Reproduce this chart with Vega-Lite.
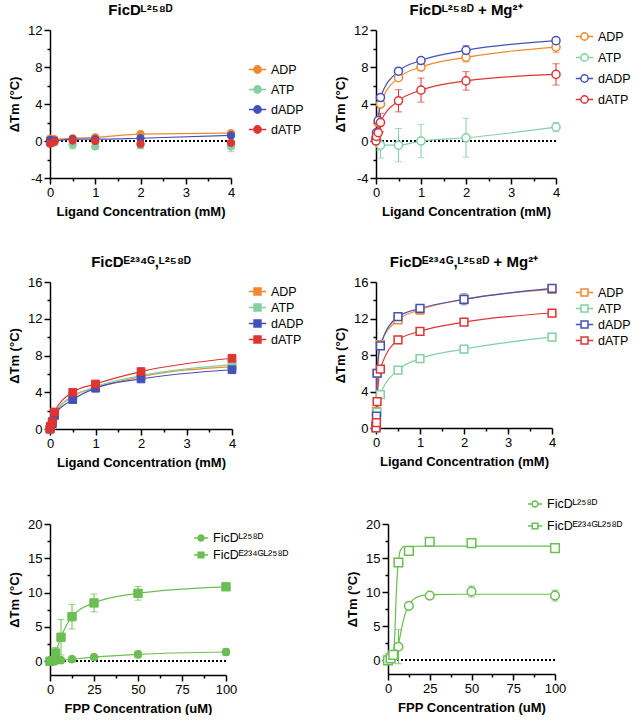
{
"$schema": "https://vega.github.io/schema/vega-lite/v6.json",
"padding": {"left": 8, "top": 3, "right": 0, "bottom": 0},
"config": {
  "font": "Liberation Sans",
  "view": {"stroke": null},
  "axis": {"grid": false, "domainColor": "#000", "domainWidth": 1.5, "tickColor": "#000", "tickWidth": 1.5, "tickSize": 6, "tickCount": 20, "labelFontSize": 13, "labelColor": "#000", "labelPadding": 2, "labelOverlap": false, "labelBound": false, "labelFlush": false, "titleFontSize": 13, "titleFontWeight": "bold", "titleColor": "#000", "titlePadding": 6},
  "title": {"fontSize": 15, "fontWeight": "bold", "color": "#000", "offset": 6},
  "legend": {"labelFontSize": 12.5, "labelColor": "#000", "symbolStrokeWidth": 1.5, "labelOffset": 4, "title": null, "orient": "none"}
},
"datasets": {
  "p1": [
    {"c":0,"s":"ADP","m":0.25,"e":0.1},{"c":0.05,"s":"ADP","m":0.2,"e":0.1},{"c":0.1,"s":"ADP","m":0.2,"e":0.1},{"c":0.5,"s":"ADP","m":0.3,"e":0.1},{"c":1,"s":"ADP","m":0.4,"e":0.15},{"c":2,"s":"ADP","m":0.75,"e":0.15},{"c":4,"s":"ADP","m":0.85,"e":0.15},
    {"c":0,"s":"ATP","m":-0.1,"e":0.2},{"c":0.05,"s":"ATP","m":-0.1,"e":0.2},{"c":0.1,"s":"ATP","m":-0.15,"e":0.3},{"c":0.5,"s":"ATP","m":-0.4,"e":0.45},{"c":1,"s":"ATP","m":-0.6,"e":0.3},{"c":2,"s":"ATP","m":-0.45,"e":0.4},{"c":4,"s":"ATP","m":-0.6,"e":0.55},
    {"c":0,"s":"dADP","m":0.1,"e":0.1},{"c":0.05,"s":"dADP","m":0.05,"e":0.1},{"c":0.1,"s":"dADP","m":0.05,"e":0.1},{"c":0.5,"s":"dADP","m":0.2,"e":0.1},{"c":1,"s":"dADP","m":0.2,"e":0.1},{"c":2,"s":"dADP","m":0.3,"e":0.15},{"c":4,"s":"dADP","m":0.6,"e":0.1},
    {"c":0,"s":"dATP","m":-0.3,"e":0.1},{"c":0.05,"s":"dATP","m":-0.2,"e":0.1},{"c":0.1,"s":"dATP","m":-0.05,"e":0.1},{"c":0.5,"s":"dATP","m":0.05,"e":0.1},{"c":1,"s":"dATP","m":0.0,"e":0.2},{"c":2,"s":"dATP","m":-0.3,"e":0.45},{"c":4,"s":"dATP","m":-0.2,"e":0.25}
  ],
  "p2": [
    {"c":0,"s":"ADP","m":0.1,"e":0.1},{"c":0.01,"s":"ADP","m":0.5,"e":0.2},{"c":0.05,"s":"ADP","m":2.0,"e":0.3},{"c":0.1,"s":"ADP","m":4.0,"e":0.3},{"c":0.5,"s":"ADP","m":6.85,"e":0.3},{"c":1,"s":"ADP","m":8.0,"e":0.4},{"c":2,"s":"ADP","m":9.05,"e":0.5},{"c":4,"s":"ADP","m":10.15,"e":0.6},
    {"c":0,"s":"ATP","m":0.0,"e":0.3},{"c":0.01,"s":"ATP","m":0.1,"e":0.4},{"c":0.05,"s":"ATP","m":-0.2,"e":0.8},{"c":0.1,"s":"ATP","m":-0.45,"e":1.4},{"c":0.5,"s":"ATP","m":-0.45,"e":1.8},{"c":1,"s":"ATP","m":0.0,"e":1.8},{"c":2,"s":"ATP","m":0.35,"e":2.1},{"c":4,"s":"ATP","m":1.5,"e":0.5},
    {"c":0,"s":"dADP","m":0.3,"e":0.1},{"c":0.01,"s":"dADP","m":0.9,"e":0.2},{"c":0.05,"s":"dADP","m":2.2,"e":0.3},{"c":0.1,"s":"dADP","m":4.7,"e":0.2},{"c":0.5,"s":"dADP","m":7.55,"e":0.2},{"c":1,"s":"dADP","m":8.7,"e":0.2},{"c":2,"s":"dADP","m":9.8,"e":0.5},{"c":4,"s":"dADP","m":10.85,"e":0.3},
    {"c":0,"s":"dATP","m":0.0,"e":0.2},{"c":0.01,"s":"dATP","m":0.5,"e":0.4},{"c":0.05,"s":"dATP","m":0.9,"e":0.8},{"c":0.1,"s":"dATP","m":2.0,"e":1.0},{"c":0.5,"s":"dATP","m":4.35,"e":1.2},{"c":1,"s":"dATP","m":5.5,"e":1.3},{"c":2,"s":"dATP","m":6.5,"e":1.0},{"c":4,"s":"dATP","m":7.2,"e":1.15}
  ],
  "p3": [
    {"c":0,"s":"ADP","m":0,"e":0.1},{"c":0.01,"s":"ADP","m":0.2,"e":0.1},{"c":0.05,"s":"ADP","m":0.5,"e":0.2},{"c":0.1,"s":"ADP","m":1.45,"e":0.2},{"c":0.5,"s":"ADP","m":3.6,"e":0.3},{"c":1,"s":"ADP","m":4.45,"e":0.4},{"c":2,"s":"ADP","m":5.7,"e":0.2},{"c":4,"s":"ADP","m":6.8,"e":0.3},
    {"c":0,"s":"ATP","m":0,"e":0.1},{"c":0.01,"s":"ATP","m":0.3,"e":0.1},{"c":0.05,"s":"ATP","m":0.8,"e":0.1},{"c":0.1,"s":"ATP","m":1.7,"e":0.1},{"c":0.5,"s":"ATP","m":3.5,"e":0.2},{"c":1,"s":"ATP","m":4.6,"e":0.2},{"c":2,"s":"ATP","m":5.8,"e":0.2},{"c":4,"s":"ATP","m":7.0,"e":0.3},
    {"c":0,"s":"dADP","m":0,"e":0.1},{"c":0.01,"s":"dADP","m":0.2,"e":0.1},{"c":0.05,"s":"dADP","m":0.6,"e":0.1},{"c":0.1,"s":"dADP","m":1.5,"e":0.1},{"c":0.5,"s":"dADP","m":3.2,"e":0.1},{"c":1,"s":"dADP","m":4.45,"e":0.1},{"c":2,"s":"dADP","m":5.45,"e":0.1},{"c":4,"s":"dADP","m":6.45,"e":0.15},
    {"c":0,"s":"dATP","m":0,"e":0.1},{"c":0.01,"s":"dATP","m":0.3,"e":0.1},{"c":0.05,"s":"dATP","m":0.8,"e":0.1},{"c":0.1,"s":"dATP","m":1.85,"e":0.1},{"c":0.5,"s":"dATP","m":4.0,"e":0.15},{"c":1,"s":"dATP","m":4.9,"e":0.15},{"c":2,"s":"dATP","m":6.25,"e":0.15},{"c":4,"s":"dATP","m":7.7,"e":0.2}
  ],
  "p4": [
    {"c":0,"s":"ADP","m":0.3,"e":0.1},{"c":0.01,"s":"ADP","m":1.8,"e":0.2},{"c":0.025,"s":"ADP","m":6.0,"e":0.3},{"c":0.1,"s":"ADP","m":9.15,"e":0.3},{"c":0.5,"s":"ADP","m":11.85,"e":0.3},{"c":1,"s":"ADP","m":12.95,"e":0.5},{"c":2,"s":"ADP","m":14.1,"e":0.4},{"c":4,"s":"ADP","m":15.2,"e":0.4},
    {"c":0,"s":"ATP","m":0,"e":0.1},{"c":0.01,"s":"ATP","m":0.4,"e":0.1},{"c":0.025,"s":"ATP","m":1.7,"e":0.2},{"c":0.1,"s":"ATP","m":3.65,"e":0.2},{"c":0.5,"s":"ATP","m":6.35,"e":0.2},{"c":1,"s":"ATP","m":7.6,"e":0.2},{"c":2,"s":"ATP","m":8.65,"e":0.2},{"c":4,"s":"ATP","m":9.95,"e":0.4},
    {"c":0,"s":"dADP","m":0.2,"e":0.1},{"c":0.01,"s":"dADP","m":1.3,"e":0.2},{"c":0.025,"s":"dADP","m":6.0,"e":0.3},{"c":0.1,"s":"dADP","m":9.0,"e":0.2},{"c":0.5,"s":"dADP","m":12.2,"e":0.3},{"c":1,"s":"dADP","m":13.1,"e":0.4},{"c":2,"s":"dADP","m":14.1,"e":0.6},{"c":4,"s":"dADP","m":15.3,"e":0.4},
    {"c":0,"s":"dATP","m":0,"e":0.1},{"c":0.01,"s":"dATP","m":0.6,"e":0.1},{"c":0.025,"s":"dATP","m":2.9,"e":0.2},{"c":0.1,"s":"dATP","m":6.45,"e":0.3},{"c":0.5,"s":"dATP","m":9.65,"e":0.2},{"c":1,"s":"dATP","m":10.6,"e":0.2},{"c":2,"s":"dATP","m":11.6,"e":0.2},{"c":4,"s":"dATP","m":12.6,"e":0.2}
  ],
  "p5": [
    {"c":0,"s":"FicDᴸ²⁵⁸ᴰ","m":0,"e":0.1},{"c":1.5625,"s":"FicDᴸ²⁵⁸ᴰ","m":0,"e":0.1},{"c":3.125,"s":"FicDᴸ²⁵⁸ᴰ","m":0.05,"e":0.1},{"c":6.25,"s":"FicDᴸ²⁵⁸ᴰ","m":0.15,"e":0.1},{"c":12.5,"s":"FicDᴸ²⁵⁸ᴰ","m":0.3,"e":0.1},{"c":25,"s":"FicDᴸ²⁵⁸ᴰ","m":0.6,"e":0.2},{"c":50,"s":"FicDᴸ²⁵⁸ᴰ","m":1.0,"e":0.5},{"c":100,"s":"FicDᴸ²⁵⁸ᴰ","m":1.35,"e":0.5},
    {"c":0,"s":"FicDᴱ²³⁴ᴳᴸ²⁵⁸ᴰ","m":0,"e":0.1},{"c":1.5625,"s":"FicDᴱ²³⁴ᴳᴸ²⁵⁸ᴰ","m":0.1,"e":0.2},{"c":3.125,"s":"FicDᴱ²³⁴ᴳᴸ²⁵⁸ᴰ","m":1.2,"e":0.8},{"c":6.25,"s":"FicDᴱ²³⁴ᴳᴸ²⁵⁸ᴰ","m":3.5,"e":2.6},{"c":12.5,"s":"FicDᴱ²³⁴ᴳᴸ²⁵⁸ᴰ","m":6.5,"e":1.8},{"c":25,"s":"FicDᴱ²³⁴ᴳᴸ²⁵⁸ᴰ","m":8.5,"e":1.3},{"c":50,"s":"FicDᴱ²³⁴ᴳᴸ²⁵⁸ᴰ","m":9.9,"e":1.0},{"c":100,"s":"FicDᴱ²³⁴ᴳᴸ²⁵⁸ᴰ","m":10.85,"e":0.5}
  ],
  "p6": [
    {"c":0,"s":"FicDᴸ²⁵⁸ᴰ","m":0,"e":0.2},{"c":1.5625,"s":"FicDᴸ²⁵⁸ᴰ","m":0.3,"e":0.2},{"c":3.125,"s":"FicDᴸ²⁵⁸ᴰ","m":0.7,"e":0.3},{"c":6.25,"s":"FicDᴸ²⁵⁸ᴰ","m":2.0,"e":2.5},{"c":12.5,"s":"FicDᴸ²⁵⁸ᴰ","m":8.0,"e":0.3},{"c":25,"s":"FicDᴸ²⁵⁸ᴰ","m":9.5,"e":0.3},{"c":50,"s":"FicDᴸ²⁵⁸ᴰ","m":10.1,"e":0.8},{"c":100,"s":"FicDᴸ²⁵⁸ᴰ","m":9.5,"e":0.8},
    {"c":0,"s":"FicDᴱ²³⁴ᴳᴸ²⁵⁸ᴰ","m":0,"e":0.1},{"c":1.5625,"s":"FicDᴱ²³⁴ᴳᴸ²⁵⁸ᴰ","m":0.3,"e":0.1},{"c":3.125,"s":"FicDᴱ²³⁴ᴳᴸ²⁵⁸ᴰ","m":0.8,"e":0.2},{"c":6.25,"s":"FicDᴱ²³⁴ᴳᴸ²⁵⁸ᴰ","m":14.35,"e":0.3},{"c":12.5,"s":"FicDᴱ²³⁴ᴳᴸ²⁵⁸ᴰ","m":16.05,"e":0.3},{"c":25,"s":"FicDᴱ²³⁴ᴳᴸ²⁵⁸ᴰ","m":17.4,"e":0.3},{"c":50,"s":"FicDᴱ²³⁴ᴳᴸ²⁵⁸ᴰ","m":17.2,"e":0.3},{"c":100,"s":"FicDᴱ²³⁴ᴳᴸ²⁵⁸ᴰ","m":16.45,"e":0.3}
  ],
  "p6fit": [
    {"c":0,"s":"FicDᴸ²⁵⁸ᴰ","m":0},{"c":3,"s":"FicDᴸ²⁵⁸ᴰ","m":0.3},{"c":5,"s":"FicDᴸ²⁵⁸ᴰ","m":1.0},{"c":6.25,"s":"FicDᴸ²⁵⁸ᴰ","m":2.3},{"c":8,"s":"FicDᴸ²⁵⁸ᴰ","m":4.5},{"c":10,"s":"FicDᴸ²⁵⁸ᴰ","m":6.6},{"c":12.5,"s":"FicDᴸ²⁵⁸ᴰ","m":8.1},{"c":15,"s":"FicDᴸ²⁵⁸ᴰ","m":8.9},{"c":20,"s":"FicDᴸ²⁵⁸ᴰ","m":9.5},{"c":25,"s":"FicDᴸ²⁵⁸ᴰ","m":9.65},{"c":50,"s":"FicDᴸ²⁵⁸ᴰ","m":9.7},{"c":100,"s":"FicDᴸ²⁵⁸ᴰ","m":9.7},
    {"c":0,"s":"FicDᴱ²³⁴ᴳᴸ²⁵⁸ᴰ","m":0},{"c":3,"s":"FicDᴱ²³⁴ᴳᴸ²⁵⁸ᴰ","m":0.5},{"c":4,"s":"FicDᴱ²³⁴ᴳᴸ²⁵⁸ᴰ","m":3.5},{"c":5,"s":"FicDᴱ²³⁴ᴳᴸ²⁵⁸ᴰ","m":10},{"c":6,"s":"FicDᴱ²³⁴ᴳᴸ²⁵⁸ᴰ","m":14},{"c":7,"s":"FicDᴱ²³⁴ᴳᴸ²⁵⁸ᴰ","m":15.8},{"c":8,"s":"FicDᴱ²³⁴ᴳᴸ²⁵⁸ᴰ","m":16.4},{"c":10,"s":"FicDᴱ²³⁴ᴳᴸ²⁵⁸ᴰ","m":16.7},{"c":25,"s":"FicDᴱ²³⁴ᴳᴸ²⁵⁸ᴰ","m":16.75},{"c":100,"s":"FicDᴱ²³⁴ᴳᴸ²⁵⁸ᴰ","m":16.75}
  ]
},
"resolve": {"scale": {"color": "independent", "stroke": "independent", "fill": "independent"}},
"spacing": 27,
"vconcat": [
 {
  "resolve": {"scale": {"color": "independent", "stroke": "independent", "fill": "independent"}},
  "spacing": 37,
  "vconcat": [
   {
    "resolve": {"scale": {"color": "independent", "stroke": "independent", "fill": "independent"}},
    "spacing": 30,
    "hconcat": [
     {
      "width": 181, "height": 148,
      "title": {"text": "FicDᴸ²⁵⁸ᴰ"},
      "data": {"name": "p1"},
      "layer": [
       {"mark": {"type": "rule", "color": "#000", "strokeWidth": 1.5, "strokeDash": [1.5, 2.5]}, "encoding": {"y": {"datum": 0, "type": "quantitative", "scale": {"domain": [-4, 12], "nice": false, "zero": false}}}},
       {"mark": {"type": "errorbar", "ticks": {"size": 7}, "thickness": 1},
        "encoding": {"x": {"field": "c", "type": "quantitative", "title": "Ligand Concentration (mM)", "scale": {"domain": [0, 4], "nice": false}},
                     "y": {"field": "m", "type": "quantitative", "title": "ΔTm (°C)", "scale": {"domain": [-4, 12], "nice": false, "zero": false}},
                     "yError": {"field": "e"},
                     "color": {"field": "s", "type": "nominal", "scale": {"domain": ["dATP", "dADP", "ATP", "ADP"], "range": ["#DE3434", "#4451B8", "#83D0A4", "#F0892E"]}, "legend": null}}},
       {"transform": [{"filter": "datum.s === 'ADP' || datum.s === 'dADP'"}],
        "mark": {"type": "line", "interpolate": "monotone", "strokeWidth": 1.2},
        "encoding": {"x": {"field": "c", "type": "quantitative", "title": "Ligand Concentration (mM)", "scale": {"domain": [0, 4], "nice": false}},
                     "y": {"field": "m", "type": "quantitative", "title": "ΔTm (°C)", "scale": {"domain": [-4, 12], "nice": false, "zero": false}},
                     "color": {"field": "s", "type": "nominal", "scale": {"domain": ["dATP", "dADP", "ATP", "ADP"], "range": ["#DE3434", "#4451B8", "#83D0A4", "#F0892E"]}, "legend": null}}},
       {"mark": {"type": "point", "shape": "circle", "filled": true, "size": 55, "strokeWidth": 1, "opacity": 1},
        "encoding": {"x": {"field": "c", "type": "quantitative", "title": "Ligand Concentration (mM)", "scale": {"domain": [0, 4], "nice": false},
                           "axis": {"tickCount": 20, "values": [0, 0.5, 1, 1.5, 2, 2.5, 3, 3.5, 4], "labelExpr": "datum.value % 1 === 0 ? '' + datum.value : ''", "tickSize": {"condition": {"test": "datum.value % 1 !== 0", "value": 3}, "value": 6}}},
                     "y": {"field": "m", "type": "quantitative", "title": "ΔTm (°C)", "scale": {"domain": [-4, 12], "nice": false, "zero": false},
                           "axis": {"tickCount": 20, "values": [-4, -2, 0, 2, 4, 6, 8, 10, 12], "labelExpr": "datum.value % 4 === 0 ? '' + datum.value : ''", "tickSize": {"condition": {"test": "datum.value % 4 !== 0", "value": 3}, "value": 6}}},
                     "stroke": {"field": "s", "type": "nominal", "scale": {"domain": ["ADP", "ATP", "dADP", "dATP"], "range": ["#F0892E", "#83D0A4", "#4451B8", "#DE3434"]},
                                "legend": {"orient": "none", "legendX": 198, "legendY": 30, "symbolType": "M-1,0H-0.42M0.42,0H1M0.42,0A0.42,0.42,0,1,1,-0.42,0A0.42,0.42,0,1,1,0.42,0Z", "symbolSize": 300, "rowPadding": 3}},
                     "fill": {"field": "s", "type": "nominal", "scale": {"domain": ["ADP", "ATP", "dADP", "dATP"], "range": ["#F0892E", "#83D0A4", "#4451B8", "#DE3434"]},
                                "legend": {"orient": "none", "legendX": 198, "legendY": 30, "symbolType": "M-1,0H-0.42M0.42,0H1M0.42,0A0.42,0.42,0,1,1,-0.42,0A0.42,0.42,0,1,1,0.42,0Z", "symbolSize": 300, "rowPadding": 3}}}}
      ]
     },
     {
      "width": 180, "height": 148,
      "title": {"text": "FicDᴸ²⁵⁸ᴰ + Mg²⁺"},
      "data": {"name": "p2"},
      "layer": [
       {"mark": {"type": "rule", "color": "#000", "strokeWidth": 1.5, "strokeDash": [1.5, 2.5]}, "encoding": {"y": {"datum": 0, "type": "quantitative", "scale": {"domain": [-4, 12], "nice": false, "zero": false}}}},
       {"mark": {"type": "errorbar", "ticks": {"size": 7}, "thickness": 1},
        "encoding": {"x": {"field": "c", "type": "quantitative", "title": "Ligand Concentration (mM)", "scale": {"domain": [0, 4], "nice": false}},
                     "y": {"field": "m", "type": "quantitative", "title": "ΔTm (°C)", "scale": {"domain": [-4, 12], "nice": false, "zero": false}},
                     "yError": {"field": "e"},
                     "color": {"field": "s", "type": "nominal", "scale": {"domain": ["dATP", "dADP", "ATP", "ADP"], "range": ["#DE3434", "#4451B8", "#83D0A4", "#F0892E"]}, "legend": null}}},
       {"mark": {"type": "line", "interpolate": "monotone", "strokeWidth": 1.2},
        "encoding": {"x": {"field": "c", "type": "quantitative", "title": "Ligand Concentration (mM)", "scale": {"domain": [0, 4], "nice": false}},
                     "y": {"field": "m", "type": "quantitative", "title": "ΔTm (°C)", "scale": {"domain": [-4, 12], "nice": false, "zero": false}},
                     "color": {"field": "s", "type": "nominal", "scale": {"domain": ["dATP", "dADP", "ATP", "ADP"], "range": ["#DE3434", "#4451B8", "#83D0A4", "#F0892E"]}, "legend": null}}},
       {"mark": {"type": "point", "shape": "circle", "filled": true, "fill": "white", "size": 65, "strokeWidth": 1.5, "opacity": 1},
        "encoding": {"x": {"field": "c", "type": "quantitative", "title": "Ligand Concentration (mM)", "scale": {"domain": [0, 4], "nice": false},
                           "axis": {"tickCount": 20, "values": [0, 0.5, 1, 1.5, 2, 2.5, 3, 3.5, 4], "labelExpr": "datum.value % 1 === 0 ? '' + datum.value : ''", "tickSize": {"condition": {"test": "datum.value % 1 !== 0", "value": 3}, "value": 6}}},
                     "y": {"field": "m", "type": "quantitative", "title": "ΔTm (°C)", "scale": {"domain": [-4, 12], "nice": false, "zero": false},
                           "axis": {"tickCount": 20, "values": [-4, -2, 0, 2, 4, 6, 8, 10, 12], "labelExpr": "datum.value % 4 === 0 ? '' + datum.value : ''", "tickSize": {"condition": {"test": "datum.value % 4 !== 0", "value": 3}, "value": 6}}},
                     "stroke": {"field": "s", "type": "nominal", "scale": {"domain": ["ADP", "ATP", "dADP", "dATP"], "range": ["#F0892E", "#83D0A4", "#4451B8", "#DE3434"]},
                                "legend": {"orient": "none", "legendX": 199, "legendY": -3, "symbolFillColor": "white", "symbolType": "M-1,0H-0.42M0.42,0H1M0.42,0A0.42,0.42,0,1,1,-0.42,0A0.42,0.42,0,1,1,0.42,0Z", "symbolSize": 300, "rowPadding": 4}}}}
      ]
     }
    ]
   },
   {
    "resolve": {"scale": {"color": "independent", "stroke": "independent", "fill": "independent"}},
    "spacing": 30,
    "hconcat": [
     {
      "width": 182, "height": 147,
      "title": {"text": "FicDᴱ²³⁴ᴳ,ᴸ²⁵⁸ᴰ"},
      "data": {"name": "p3"},
      "layer": [
       {"mark": {"type": "errorbar", "ticks": {"size": 7}, "thickness": 1},
        "encoding": {"x": {"field": "c", "type": "quantitative", "title": "Ligand Concentration (mM)", "scale": {"domain": [0, 4], "nice": false}},
                     "y": {"field": "m", "type": "quantitative", "title": "ΔTm (°C)", "scale": {"domain": [0, 16], "nice": false}},
                     "yError": {"field": "e"},
                     "color": {"field": "s", "type": "nominal", "scale": {"domain": ["dATP", "dADP", "ATP", "ADP"], "range": ["#DE3434", "#4451B8", "#83D0A4", "#F0892E"]}, "legend": null}}},
       {"mark": {"type": "line", "interpolate": "monotone", "strokeWidth": 1.2},
        "encoding": {"x": {"field": "c", "type": "quantitative", "title": "Ligand Concentration (mM)", "scale": {"domain": [0, 4], "nice": false}},
                     "y": {"field": "m", "type": "quantitative", "title": "ΔTm (°C)", "scale": {"domain": [0, 16], "nice": false}},
                     "color": {"field": "s", "type": "nominal", "scale": {"domain": ["dATP", "dADP", "ATP", "ADP"], "range": ["#DE3434", "#4451B8", "#83D0A4", "#F0892E"]}, "legend": null}}},
       {"mark": {"type": "point", "shape": "square", "filled": true, "size": 60, "strokeWidth": 1, "opacity": 1},
        "encoding": {"x": {"field": "c", "type": "quantitative", "title": "Ligand Concentration (mM)", "scale": {"domain": [0, 4], "nice": false},
                           "axis": {"tickCount": 20, "values": [0, 0.5, 1, 1.5, 2, 2.5, 3, 3.5, 4], "labelExpr": "datum.value % 1 === 0 ? '' + datum.value : ''", "tickSize": {"condition": {"test": "datum.value % 1 !== 0", "value": 3}, "value": 6}}},
                     "y": {"field": "m", "type": "quantitative", "title": "ΔTm (°C)", "scale": {"domain": [0, 16], "nice": false},
                           "axis": {"tickCount": 20, "values": [0, 2, 4, 6, 8, 10, 12, 14, 16], "labelExpr": "datum.value % 4 === 0 ? '' + datum.value : ''", "tickSize": {"condition": {"test": "datum.value % 4 !== 0", "value": 3}, "value": 6}}},
                     "stroke": {"field": "s", "type": "nominal", "scale": {"domain": ["ADP", "ATP", "dADP", "dATP"], "range": ["#F0892E", "#83D0A4", "#4451B8", "#DE3434"]},
                                "legend": {"orient": "none", "legendX": 198, "legendY": 0, "symbolType": "M-1,0H-0.4M0.4,0H1M-0.4,-0.4H0.4V0.4H-0.4Z", "symbolSize": 300, "rowPadding": 0}},
                     "fill": {"field": "s", "type": "nominal", "scale": {"domain": ["ADP", "ATP", "dADP", "dATP"], "range": ["#F0892E", "#83D0A4", "#4451B8", "#DE3434"]},
                                "legend": {"orient": "none", "legendX": 198, "legendY": 0, "symbolType": "M-1,0H-0.4M0.4,0H1M-0.4,-0.4H0.4V0.4H-0.4Z", "symbolSize": 300, "rowPadding": 0}}}}
      ]
     },
     {
      "width": 176, "height": 146,
      "title": {"text": "FicDᴱ²³⁴ᴳ,ᴸ²⁵⁸ᴰ + Mg²⁺"},
      "data": {"name": "p4"},
      "layer": [
       {"mark": {"type": "errorbar", "ticks": {"size": 7}, "thickness": 1},
        "encoding": {"x": {"field": "c", "type": "quantitative", "title": "Ligand Concentration (mM)", "scale": {"domain": [0, 4], "nice": false}},
                     "y": {"field": "m", "type": "quantitative", "title": "ΔTm (°C)", "scale": {"domain": [0, 16], "nice": false}},
                     "yError": {"field": "e"},
                     "color": {"field": "s", "type": "nominal", "scale": {"domain": ["dATP", "dADP", "ATP", "ADP"], "range": ["#DE3434", "#4451B8", "#83D0A4", "#F0892E"]}, "legend": null}}},
       {"mark": {"type": "line", "interpolate": "monotone", "strokeWidth": 1.2},
        "encoding": {"x": {"field": "c", "type": "quantitative", "title": "Ligand Concentration (mM)", "scale": {"domain": [0, 4], "nice": false}},
                     "y": {"field": "m", "type": "quantitative", "title": "ΔTm (°C)", "scale": {"domain": [0, 16], "nice": false}},
                     "color": {"field": "s", "type": "nominal", "scale": {"domain": ["dATP", "dADP", "ATP", "ADP"], "range": ["#DE3434", "#4451B8", "#83D0A4", "#F0892E"]}, "legend": null}}},
       {"mark": {"type": "point", "shape": "square", "filled": true, "fill": "white", "size": 60, "strokeWidth": 1.5, "opacity": 1},
        "encoding": {"x": {"field": "c", "type": "quantitative", "title": "Ligand Concentration (mM)", "scale": {"domain": [0, 4], "nice": false},
                           "axis": {"tickCount": 20, "values": [0, 0.5, 1, 1.5, 2, 2.5, 3, 3.5, 4], "labelExpr": "datum.value % 1 === 0 ? '' + datum.value : ''", "tickSize": {"condition": {"test": "datum.value % 1 !== 0", "value": 3}, "value": 6}}},
                     "y": {"field": "m", "type": "quantitative", "title": "ΔTm (°C)", "scale": {"domain": [0, 16], "nice": false},
                           "axis": {"tickCount": 20, "values": [0, 2, 4, 6, 8, 10, 12, 14, 16], "labelExpr": "datum.value % 4 === 0 ? '' + datum.value : ''", "tickSize": {"condition": {"test": "datum.value % 4 !== 0", "value": 3}, "value": 6}}},
                     "stroke": {"field": "s", "type": "nominal", "scale": {"domain": ["ADP", "ATP", "dADP", "dATP"], "range": ["#F0892E", "#83D0A4", "#4451B8", "#DE3434"]},
                                "legend": {"orient": "none", "legendX": 199, "legendY": 1, "symbolFillColor": "white", "symbolType": "M-1,0H-0.4M0.4,0H1M-0.4,-0.4H0.4V0.4H-0.4Z", "symbolSize": 300, "rowPadding": 0}}}}
      ]
     }
    ]
   }
  ]
 },
 {
  "resolve": {"scale": {"color": "independent", "stroke": "independent", "fill": "independent"}},
  "spacing": 57,
  "hconcat": [
   {
    "width": 176, "height": 151,
    "data": {"name": "p5"},
    "layer": [
     {"mark": {"type": "rule", "color": "#000", "strokeWidth": 1.5, "strokeDash": [1.5, 2.5]}, "encoding": {"y": {"datum": 0, "type": "quantitative", "scale": {"domain": [-2, 20], "nice": false, "zero": false}}}},
     {"mark": {"type": "errorbar", "ticks": {"size": 7}, "thickness": 1, "color": "#6BBE52"},
      "encoding": {"x": {"field": "c", "type": "quantitative", "title": "FPP Concentration (uM)", "scale": {"domain": [0, 100], "nice": false}},
                   "y": {"field": "m", "type": "quantitative", "title": "ΔTm (°C)", "scale": {"domain": [-2, 20], "nice": false, "zero": false}},
                   "yError": {"field": "e"}}},
     {"mark": {"type": "line", "interpolate": "monotone", "strokeWidth": 1.2, "color": "#6BBE52"},
      "encoding": {"x": {"field": "c", "type": "quantitative", "title": "FPP Concentration (uM)", "scale": {"domain": [0, 100], "nice": false}},
                   "y": {"field": "m", "type": "quantitative", "title": "ΔTm (°C)", "scale": {"domain": [-2, 20], "nice": false, "zero": false}},
                   "detail": {"field": "s", "type": "nominal"}}},
     {"transform": [{"filter": "datum.s === 'FicDᴸ²⁵⁸ᴰ'"}],
      "mark": {"type": "point", "shape": "circle", "filled": true, "stroke": "#6BBE52", "size": 60, "strokeWidth": 1, "opacity": 1},
      "encoding": {"x": {"field": "c", "type": "quantitative", "title": "FPP Concentration (uM)", "scale": {"domain": [0, 100], "nice": false},
                         "axis": {"tickCount": 20, "values": [0, 12.5, 25, 37.5, 50, 62.5, 75, 87.5, 100], "labelExpr": "datum.value % 25 === 0 ? '' + datum.value : ''", "tickSize": {"condition": {"test": "datum.value % 25 !== 0", "value": 3}, "value": 6}}},
                   "y": {"field": "m", "type": "quantitative", "title": "ΔTm (°C)", "scale": {"domain": [-2, 20], "nice": false, "zero": false},
                         "axis": {"tickCount": 20, "values": [0, 2.5, 5, 7.5, 10, 12.5, 15, 17.5, 20], "labelExpr": "datum.value % 5 === 0 ? '' + datum.value : ''", "tickSize": {"condition": {"test": "datum.value % 5 !== 0", "value": 3}, "value": 6}}},
                   "fill": {"field": "s", "type": "nominal", "scale": {"domain": ["FicDᴸ²⁵⁸ᴰ"], "range": ["#6BBE52"]},
                            "legend": {"orient": "none", "legendX": 143, "legendY": 6, "symbolStrokeColor": "#6BBE52", "symbolType": "M-1,0H-0.42M0.42,0H1M0.42,0A0.42,0.42,0,1,1,-0.42,0A0.42,0.42,0,1,1,0.42,0Z", "symbolSize": 200}}}},
     {"transform": [{"filter": "datum.s !== 'FicDᴸ²⁵⁸ᴰ'"}],
      "mark": {"type": "point", "shape": "square", "filled": true, "stroke": "#6BBE52", "size": 70, "strokeWidth": 1, "opacity": 1},
      "encoding": {"x": {"field": "c", "type": "quantitative", "title": "FPP Concentration (uM)", "scale": {"domain": [0, 100], "nice": false}},
                   "y": {"field": "m", "type": "quantitative", "title": "ΔTm (°C)", "scale": {"domain": [-2, 20], "nice": false, "zero": false}},
                   "color": {"field": "s", "type": "nominal", "scale": {"domain": ["FicDᴱ²³⁴ᴳᴸ²⁵⁸ᴰ"], "range": ["#6BBE52"]},
                             "legend": {"orient": "none", "legendX": 143, "legendY": 23, "symbolStrokeColor": "#6BBE52", "symbolType": "M-1,0H-0.4M0.4,0H1M-0.4,-0.4H0.4V0.4H-0.4Z", "symbolSize": 200}}}}
    ]
   },
   {
    "width": 167, "height": 150,
    "layer": [
     {"data": {"name": "p6"}, "mark": {"type": "rule", "color": "#000", "strokeWidth": 1.5, "strokeDash": [1.5, 2.5]}, "encoding": {"y": {"datum": 0, "type": "quantitative", "scale": {"domain": [-2, 20], "nice": false, "zero": false}}}},
     {"data": {"name": "p6"}, "mark": {"type": "errorbar", "ticks": {"size": 7}, "thickness": 1, "color": "#6BBE52"},
      "encoding": {"x": {"field": "c", "type": "quantitative", "title": "FPP Concentration (uM)", "scale": {"domain": [0, 100], "nice": false}},
                   "y": {"field": "m", "type": "quantitative", "title": "ΔTm (°C)", "scale": {"domain": [-2, 20], "nice": false, "zero": false}},
                   "yError": {"field": "e"}}},
     {"data": {"name": "p6fit"}, "mark": {"type": "line", "interpolate": "monotone", "strokeWidth": 1.2, "color": "#6BBE52"},
      "encoding": {"x": {"field": "c", "type": "quantitative", "title": "FPP Concentration (uM)", "scale": {"domain": [0, 100], "nice": false}},
                   "y": {"field": "m", "type": "quantitative", "title": "ΔTm (°C)", "scale": {"domain": [-2, 20], "nice": false, "zero": false}},
                   "detail": {"field": "s", "type": "nominal"}}},
     {"data": {"name": "p6"}, "transform": [{"filter": "datum.s === 'FicDᴸ²⁵⁸ᴰ'"}],
      "mark": {"type": "point", "shape": "circle", "filled": true, "fill": "white", "size": 75, "strokeWidth": 1.5, "opacity": 1},
      "encoding": {"x": {"field": "c", "type": "quantitative", "title": "FPP Concentration (uM)", "scale": {"domain": [0, 100], "nice": false},
                         "axis": {"tickCount": 20, "values": [0, 12.5, 25, 37.5, 50, 62.5, 75, 87.5, 100], "labelExpr": "datum.value % 25 === 0 ? '' + datum.value : ''", "tickSize": {"condition": {"test": "datum.value % 25 !== 0", "value": 3}, "value": 6}}},
                   "y": {"field": "m", "type": "quantitative", "title": "ΔTm (°C)", "scale": {"domain": [-2, 20], "nice": false, "zero": false},
                         "axis": {"tickCount": 20, "values": [0, 2.5, 5, 7.5, 10, 12.5, 15, 17.5, 20], "labelExpr": "datum.value % 5 === 0 ? '' + datum.value : ''", "tickSize": {"condition": {"test": "datum.value % 5 !== 0", "value": 3}, "value": 6}}},
                   "stroke": {"field": "s", "type": "nominal", "scale": {"domain": ["FicDᴸ²⁵⁸ᴰ"], "range": ["#6BBE52"]},
                              "legend": {"orient": "none", "legendX": 139, "legendY": -28, "symbolFillColor": "white", "symbolType": "M-1,0H-0.42M0.42,0H1M0.42,0A0.42,0.42,0,1,1,-0.42,0A0.42,0.42,0,1,1,0.42,0Z", "symbolSize": 200}}}},
     {"data": {"name": "p6"}, "transform": [{"filter": "datum.s !== 'FicDᴸ²⁵⁸ᴰ'"}],
      "mark": {"type": "point", "shape": "square", "filled": false, "fill": "white", "size": 75, "strokeWidth": 1.5, "opacity": 1},
      "encoding": {"x": {"field": "c", "type": "quantitative", "title": "FPP Concentration (uM)", "scale": {"domain": [0, 100], "nice": false}},
                   "y": {"field": "m", "type": "quantitative", "title": "ΔTm (°C)", "scale": {"domain": [-2, 20], "nice": false, "zero": false}},
                   "color": {"field": "s", "type": "nominal", "scale": {"domain": ["FicDᴱ²³⁴ᴳᴸ²⁵⁸ᴰ"], "range": ["#6BBE52"]},
                             "legend": {"orient": "none", "legendX": 139, "legendY": -6, "symbolFillColor": "white", "symbolType": "M-1,0H-0.4M0.4,0H1M-0.4,-0.4H0.4V0.4H-0.4Z", "symbolSize": 200}}}}
    ]
   }
  ]
 }
]
}
